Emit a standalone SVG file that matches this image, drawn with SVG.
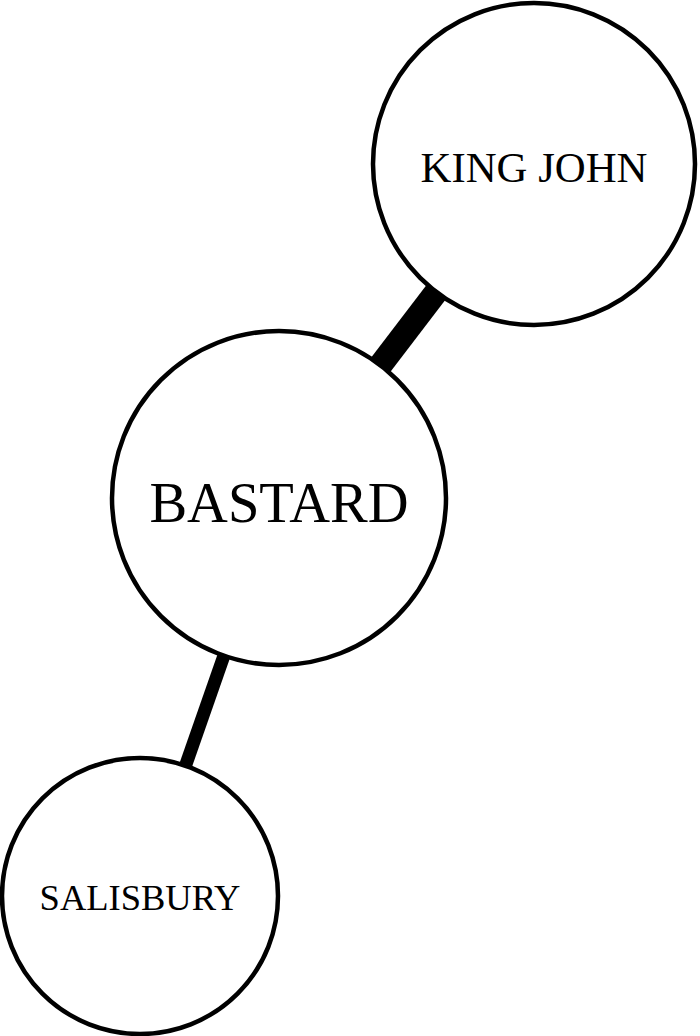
<svg xmlns="http://www.w3.org/2000/svg" width="700" height="1036" viewBox="0 0 700 1036">
<style>
.node circle{fill:#fff;stroke:#000;stroke-width:4.5}
.node text{font-family:"Liberation Serif","Times New Roman",serif;fill:#000;text-anchor:middle}
.edge{stroke:#000;stroke-linecap:butt}
</style>
<rect width="700" height="1036" fill="#fff"/>
<g id="connectors">
<line class="edge" x1="534" y1="164" x2="279" y2="498" stroke-width="24"/>
<line class="edge" x1="279" y1="498" x2="140" y2="896" stroke-width="13"/>
</g>
<g id="node-king-john" class="node">
<circle cx="534" cy="164" r="161"/>
<text x="534" y="182" font-size="42.8">KING JOHN</text>
</g>
<g id="node-bastard" class="node">
<circle cx="279" cy="498" r="167"/>
<text x="279" y="522" font-size="56.5">BASTARD</text>
</g>
<g id="node-salisbury" class="node">
<circle cx="140" cy="896" r="138"/>
<text x="140" y="910" font-size="36.5">SALISBURY</text>
</g>
</svg>
